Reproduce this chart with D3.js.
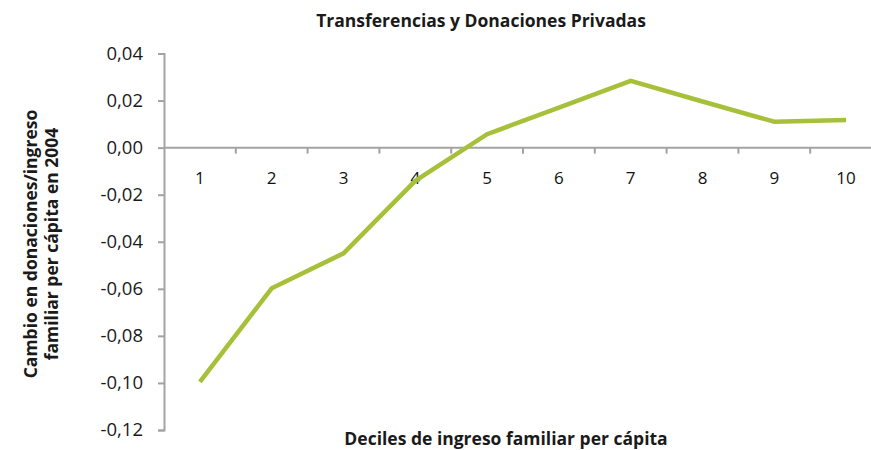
<!DOCTYPE html>
<html>
<head>
<meta charset="utf-8">
<script src="https://cdn.jsdelivr.net/npm/d3@7"></script>
<style>
  body { margin: 0; background: #fff; }
  text { font-family: "Open Sans", "Noto Sans", sans-serif; fill: #1a1a1a; }
</style>
</head>
<body>
<script>
// chart data
var deciles = ["1", "2", "3", "4", "5", "6", "7", "8", "9", "10"];
var cambio = [-0.0995, -0.0598, -0.0449, -0.0141, 0.0057, 0.0170, 0.0284, 0.0196, 0.0110, 0.0117];
var yTicks = [0.04, 0.02, 0.00, -0.02, -0.04, -0.06, -0.08, -0.10, -0.12];

var title = "Transferencias y Donaciones Privadas";
var xTitle = "Deciles de ingreso familiar per cápita";
var yTitle = ["Cambio en donaciones/ingreso", "familiar per cápita en 2004"];

// set up dimensions
var width = 871,
    height = 450;

var svg = d3.select("body")
            .append("svg")
            .attr("width", width)
            .attr("height", height);

// scales
var x = d3.scaleBand()
    .domain(deciles)
    .range([164, 882]);

var y = d3.scaleLinear()
    .domain([-0.12, 0.04])
    .range([430, 53.5]);

// spanish format: comma decimal, plain hyphen for minus
var fmt = function(d) { return d3.format(".2f")(d).replace(".", ",").replace("\u2212", "-"); };
var axisColor = "#a3a3a3";

// y axis
var yAxis = svg.append("g")
    .attr("transform", "translate(164,0)")
    .call(d3.axisLeft(y).tickValues(yTicks).tickFormat(fmt).tickSize(6).tickPadding(15));
yAxis.select(".domain").attr("stroke", axisColor).attr("stroke-width", 2);
yAxis.selectAll(".tick line").attr("stroke", axisColor).attr("stroke-width", 2);
yAxis.selectAll(".tick text")
    .style("font-size", "18.5px")
    .style("font-family", "'Open Sans', sans-serif")
    .attr("fill", "#111");

// x axis at zero, ticks between bands
var xAxis = svg.append("g")
    .attr("transform", "translate(0," + y(0) + ")");
xAxis.append("line")
    .attr("x1", x.range()[0])
    .attr("x2", x.range()[1])
    .attr("stroke", axisColor)
    .attr("stroke-width", 2);
xAxis.selectAll(".xtick")
    .data(deciles.slice(1))
    .enter()
    .append("line")
    .attr("x1", function(d) { return x(d); })
    .attr("x2", function(d) { return x(d); })
    .attr("y1", 0)
    .attr("y2", 6)
    .attr("stroke", axisColor)
    .attr("stroke-width", 2);
xAxis.selectAll(".xlabel")
    .data(deciles)
    .enter()
    .append("text")
    .attr("x", function(d) { return x(d) + x.bandwidth() / 2; })
    .attr("y", 36.5)
    .attr("text-anchor", "middle")
    .style("font-size", "17px")
    .style("fill", "#111")
    .text(function(d) { return d; });

// line
var line = d3.line()
    .x(function(d, i) { return x(deciles[i]) + x.bandwidth() / 2; })
    .y(function(d) { return y(d); });

svg.append("path")
    .datum(cambio)
    .attr("d", line)
    .attr("fill", "none")
    .attr("stroke", "#a6c03a")
    .attr("stroke-width", 4.5)
    .attr("stroke-linejoin", "miter");

// titles
svg.append("text")
    .attr("x", 481)
    .attr("y", 27)
    .attr("text-anchor", "middle")
    .style("font-size", "17.5px")
    .style("font-weight", "bold")
    .text(title);

svg.append("text")
    .attr("x", 506)
    .attr("y", 445)
    .attr("text-anchor", "middle")
    .style("font-size", "17.5px")
    .style("font-weight", "bold")
    .text(xTitle);

svg.append("g")
    .attr("transform", "translate(0,244) rotate(-90)")
    .selectAll("text")
    .data(yTitle)
    .enter()
    .append("text")
    .attr("x", 0)
    .attr("y", function(d, i) { return 37 + i * 20.5; })
    .attr("text-anchor", "middle")
    .style("font-size", "17.5px")
    .style("font-weight", "bold")
    .text(function(d) { return d; });
</script>
</body>
</html>
